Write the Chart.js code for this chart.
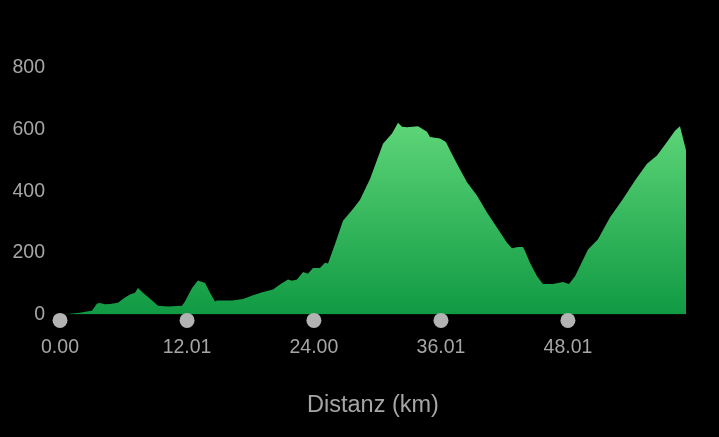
<!DOCTYPE html>
<html>
<head>
<meta charset="utf-8">
<script src="https://cdn.jsdelivr.net/npm/chart.js@4.4.1/dist/chart.umd.min.js"></script>
<style>
  html, body { margin: 0; padding: 0; background: #000; }
  #wrap { width: 719px; height: 437px; position: relative; }
</style>
</head>
<body>
<div id="wrap"><canvas id="c" width="719" height="437"></canvas></div>
<script>
// distance along the route (km)
const distanceKm = [
  0, 0.95, 1.89, 2.65, 3.02, 3.50, 3.78, 4.25, 4.73, 5.48, 6.14, 6.62, 7.09, 7.37, 7.84,
  8.70, 9.26, 10.21, 11.53, 11.81, 12.48, 13.04, 13.71, 14.18, 14.65, 14.84, 16.26, 17.30,
  18.24, 19.19, 20.13, 20.79, 21.55, 21.93, 22.40, 22.97, 23.44, 23.91, 24.57, 25.05, 25.33,
  25.99, 26.75, 27.69, 28.36, 29.30, 30.53, 31.38, 31.95, 32.33, 32.80, 33.84, 34.69, 34.97,
  35.92, 36.48, 36.86, 37.52, 38.47, 39.41, 40.36, 41.30, 42.25, 42.72, 43.29, 43.76, 43.95,
  44.42, 45.09, 45.65, 46.60, 47.54, 48.11, 48.68, 49.91, 50.85, 51.98, 53.21, 54.35, 55.48,
  56.43, 57.37, 58.13, 58.60, 59.17
];
// elevation (m)
const elevationM = [
  0, 2, 5, 10, 12, 35, 37, 33, 34, 38, 55, 65, 70, 86, 70,
  45, 28, 26, 28, 42, 86, 110, 102, 70, 42, 45, 45, 50,
  62, 73, 81, 97, 113, 109, 113, 138, 132, 151, 151, 168, 165,
  228, 304, 342, 372, 440, 554, 587, 622, 609, 608, 611, 593, 576,
  571, 560, 533, 489, 429, 386, 331, 282, 233, 215, 219, 219, 206,
  168, 124, 99, 99, 105, 99, 124, 211, 244, 315, 375, 435, 489,
  516, 560, 596, 611, 533
];
const xTickValues = [0, 12.01, 24.00, 36.01, 48.01];
const xTickLabels = ["0.00", "12.01", "24.00", "36.01", "48.01"];
const yTicks = [0, 200, 400, 600, 800];
const xTitle = "Distanz (km)";

const points = distanceKm.map((d, i) => ({ x: d, y: elevationM[i] }));

const tickDots = {
  id: 'tickDots',
  afterDraw(chart) {
    const ctx = chart.ctx;
    const xs = chart.scales.x;
    const bottom = chart.chartArea.bottom;
    ctx.save();
    ctx.fillStyle = '#b3b3b3';
    xTickValues.forEach(v => {
      const px = xs.getPixelForValue(v);
      ctx.beginPath();
      ctx.arc(px, bottom + 6, 7.5, 0, Math.PI * 2);
      ctx.fill();
    });
    ctx.restore();
  }
};

const FONT = "'Liberation Sans', Arial, Helvetica, sans-serif";
const GREY = '#a6a6a6';

new Chart(document.getElementById('c'), {
  type: 'line',
  data: {
    datasets: [{
      data: points,
      fill: 'origin',
      borderWidth: 0,
      pointRadius: 0,
      tension: 0,
      backgroundColor(ctx) {
        const chart = ctx.chart;
        const area = chart.chartArea;
        if (!area) return '#2bb055';
        const ys = chart.scales.y;
        const top = ys.getPixelForValue(Math.max(...elevationM));
        const g = chart.ctx.createLinearGradient(0, top, 0, area.bottom);
        g.addColorStop(0, '#5ed578');
        g.addColorStop(1, '#109a43');
        return g;
      }
    }]
  },
  options: {
    responsive: false,
    animation: false,
    layout: { padding: { top: 68, right: 33, left: 12, bottom: 17 } },
    plugins: { legend: { display: false }, tooltip: { enabled: false } },
    scales: {
      x: {
        type: 'linear',
        min: 0,
        max: distanceKm[distanceKm.length - 1],
        grid: { display: false, drawTicks: false },
        border: { display: false },
        afterBuildTicks(scale) { scale.ticks = xTickValues.map(v => ({ value: v })); },
        ticks: {
          color: GREY,
          font: { family: FONT, size: 19.5 },
          padding: 22,
          maxRotation: 0,
          autoSkip: false,
          callback(v, i) { return xTickLabels[i]; }
        },
        title: {
          display: true,
          text: xTitle,
          color: GREY,
          font: { family: FONT, size: 23.5 },
          padding: { top: 10, bottom: 0 }
        }
      },
      y: {
        min: 0,
        max: 800,
        grid: { display: false, drawTicks: false },
        border: { display: false },
        afterBuildTicks(scale) { scale.ticks = yTicks.map(v => ({ value: v })); },
        afterFit(scale) { scale.width = 48; },
        ticks: {
          color: GREY,
          font: { family: FONT, size: 19.5 },
          padding: 15
        }
      }
    }
  },
  plugins: [tickDots]
});
</script>
</body>
</html>
